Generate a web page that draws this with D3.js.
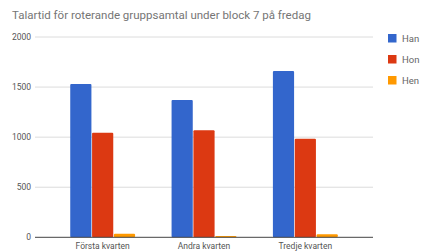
<!DOCTYPE html>
<html lang="sv">
<head>
<meta charset="UTF-8">
<title>Talartid</title>
<script src="https://d3js.org/d3.v7.min.js"></script>
<style>
  body { margin: 0; background: #fff; }
  svg { display: block; font-family: Roboto, Arial, sans-serif; }
</style>
</head>
<body>
<div id="chart"></div>
<script>
// data
var categories = ["Första kvarten", "Andra kvarten", "Tredje kvarten"];
var seriesNames = ["Han", "Hon", "Hen"];
var han = [1530, 1370, 1660];
var hon = [1045, 1070, 985];
var hen = [36, 13, 30];
var yTicks = [0, 500, 1000, 1500, 2000];
var colors = ["#3366cc", "#dc3912", "#ff9900"];

var width = 423, height = 252;
var allSeries = [han, hon, hen];

var svg = d3.select("#chart")
  .append("svg")
  .attr("width", width)
  .attr("height", height);

// title
svg.append("text")
  .attr("x", 12)
  .attr("y", 19)
  .attr("font-size", 11.5)
  .attr("fill", "#757575")
  .text("Talartid för roterande gruppsamtal under block 7 på fredag");

var y = d3.scaleLinear().domain([0, 2000]).range([237.3, 37]);
var x0 = d3.scaleBand().domain(categories).range([52, 356])
  .paddingInner(0.36).paddingOuter(0.18);
var x1 = d3.scaleBand().domain(seriesNames).range([0, x0.bandwidth()]).paddingInner(0.03);

// grid lines
svg.append("g")
  .selectAll("line")
  .data(yTicks.filter(function(d) { return d > 0; }))
  .enter()
  .append("line")
  .attr("x1", 35)
  .attr("x2", 373)
  .attr("y1", function(d) { return y(d); })
  .attr("y2", function(d) { return y(d); })
  .attr("stroke", "#dcdcdc")
  .attr("stroke-width", 1);

// y labels
svg.append("g")
  .selectAll("text")
  .data(yTicks)
  .enter()
  .append("text")
  .attr("x", 31)
  .attr("y", function(d) { return y(d) + 3; })
  .attr("text-anchor", "end")
  .attr("font-size", 8.5)
  .attr("fill", "#555")
  .text(function(d) { return d; });

// bars
var groups = svg.append("g")
  .selectAll("g")
  .data(categories)
  .enter()
  .append("g")
  .attr("transform", function(d) { return "translate(" + x0(d) + ",0)"; });

groups.selectAll("rect")
  .data(function(d, i) {
    return seriesNames.map(function(s, j) { return { s: s, v: allSeries[j][i], c: colors[j] }; });
  })
  .enter()
  .append("rect")
  .attr("x", function(d) { return x1(d.s); })
  .attr("width", x1.bandwidth())
  .attr("y", function(d) { return y(d.v); })
  .attr("height", function(d) { return y(0) - y(d.v); })
  .attr("rx", 1)
  .attr("fill", function(d) { return d.c; });

// baseline
svg.append("line")
  .attr("x1", 35)
  .attr("x2", 373)
  .attr("y1", y(0))
  .attr("y2", y(0))
  .attr("stroke", "#444")
  .attr("stroke-width", 1);

// x labels
svg.append("g")
  .selectAll("text")
  .data(categories)
  .enter()
  .append("text")
  .attr("x", function(d) { return x0(d) + x0.bandwidth() / 2; })
  .attr("y", 249)
  .attr("text-anchor", "middle")
  .attr("font-size", 8.5)
  .attr("fill", "#555")
  .text(function(d) { return d; });

// legend
var legend = svg.append("g")
  .selectAll("g")
  .data(seriesNames)
  .enter()
  .append("g")
  .attr("transform", function(d, i) { return "translate(388," + (34 + i * 21) + ")"; });

legend.append("rect")
  .attr("width", 8.5)
  .attr("height", 8.5)
  .attr("fill", function(d, i) { return colors[i]; });

legend.append("text")
  .attr("x", 14)
  .attr("y", 8)
  .attr("font-size", 9.5)
  .attr("fill", "#666")
  .text(function(d) { return d; });
</script>
</body>
</html>
